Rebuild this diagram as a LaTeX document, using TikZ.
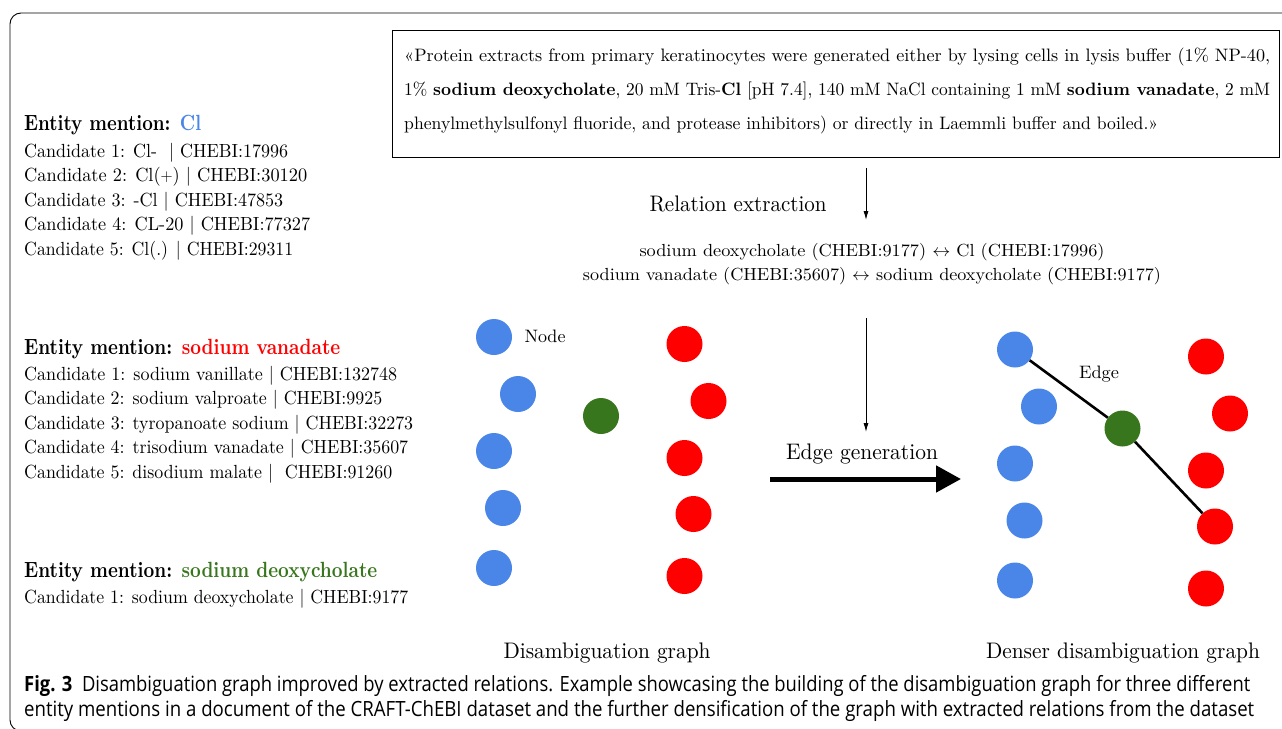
\documentclass[tikz,border=0pt]{standalone}
\usepackage{fontspec}
\usepackage{graphicx}
\usetikzlibrary{arrows.meta}
\setmainfont{lmroman10-regular.otf}[BoldFont=lmroman10-bold.otf]
\newfontfamily\capfont{Open Sans}
\definecolor{nblue}{RGB}{74,134,232}
\definecolor{nred}{RGB}{255,0,0}
\definecolor{ngreen}{RGB}{56,118,29}
\newcommand{\fitw}[2]{\resizebox{#1}{\height}{#2}}
\newcommand{\fsz}[1]{\fontsize{#1}{#1}\selectfont}
\begin{document}
\begin{tikzpicture}[x=1pt,y=-1pt,
  txt/.style={inner sep=0pt, anchor=base west},
  ctxt/.style={inner sep=0pt, anchor=base},
  dot/.style={circle, minimum size=36pt, inner sep=0pt},
  bnode/.style={dot, fill=nblue},
  rnode/.style={dot, fill=nred},
  gnode/.style={dot, fill=ngreen},
  thinarrow/.style={-{Latex[length=9pt,width=5pt]}, line width=0.9pt},
  thickarrow/.style={-{Triangle[length=25pt,width=26pt]}, line width=5pt},
  edgeline/.style={line width=2.6pt},
  cand/.style={txt, font=\fsz{19}},
  ent/.style={txt, font=\fsz{22}\bfseries},
  boxtxt/.style={txt, font=\fsz{18}},
  rel/.style={ctxt, font=\fsz{17.5}},
  big/.style={ctxt, font=\fsz{22.5}},
  small/.style={ctxt, font=\fsz{18}},
  captxt/.style={txt, font=\capfont\fsz{21}},
]
\useasboundingbox (0,0) rectangle (1282,728);
% outer frame
\draw[line width=0.9pt, rounded corners=11pt] (10,13) rectangle (1310,731);

% left column
\node[ent] (e1) at (24,130) {\fitw{177pt}{Entity mention: \textcolor{nblue}{Cl}}};
\node[cand] (c11) at (24,157) {\fitw{264pt}{Candidate 1: Cl-\ \ | CHEBI:17996}};
\node[cand] (c12) at (24,181) {\fitw{283pt}{Candidate 2: Cl($+$) | CHEBI:30120}};
\node[cand] (c13) at (24,206) {\fitw{259pt}{Candidate 3: -Cl | CHEBI:47853}};
\node[cand] (c14) at (24,230) {\fitw{286pt}{Candidate 4: CL-20 | CHEBI:77327}};
\node[cand] (c15) at (24,255) {\fitw{269pt}{Candidate 5: Cl(.) | CHEBI:29311}};

\node[ent] (e2) at (24,354) {\fitw{316pt}{Entity mention: \textcolor{nred}{sodium vanadate}}};
\node[cand] (c21) at (24,380) {\fitw{373pt}{Candidate 1: sodium vanillate | CHEBI:132748}};
\node[cand] (c22) at (24,404) {\fitw{358pt}{Candidate 2: sodium valproate | CHEBI:9925}};
\node[cand] (c23) at (24,429) {\fitw{389pt}{Candidate 3: tyropanoate sodium | CHEBI:32273}};
\node[cand] (c24) at (24,453) {\fitw{384pt}{Candidate 4: trisodium vanadate | CHEBI:35607}};
\node[cand] (c25) at (24,478) {\fitw{368pt}{Candidate 5: disodium malate |\ \ CHEBI:91260}};

\node[ent] (e3) at (24,577) {\fitw{353pt}{Entity mention: \textcolor{ngreen}{sodium deoxycholate}}};
\node[cand] (c31) at (24,603) {\fitw{384pt}{Candidate 1: sodium deoxycholate | CHEBI:9177}};

% sentence box
\node[draw, line width=0.9pt, inner sep=0pt, minimum width=887pt, minimum height=127pt, anchor=north west] (box) at (392,30) {};
\node[boxtxt] (b1) at (404,61.5) {\fitw{866pt}{«Protein extracts from primary keratinocytes were generated either by lysing cells in lysis buffer (1\% NP-40,}};
\node[boxtxt] (b2) at (404,95) {\fitw{866pt}{1\% \textbf{sodium deoxycholate}, 20 mM Tris-\textbf{Cl} [pH 7.4], 140 mM NaCl containing 1 mM \textbf{sodium vanadate}, 2 mM}};
\node[boxtxt] (b3) at (404,129) {\fitw{754pt}{phenylmethylsulfonyl fluoride, and protease inhibitors) or directly in Laemmli buffer and boiled.»}};

% relation extraction
\coordinate (a1s) at (866,168);
\coordinate (a1e) at (866,220);
\draw[thinarrow] (a1s) -- (a1e);
\node[big] (relx) at (738,211) {\fitw{177pt}{Relation extraction}};
\node[rel] (r1) at (872,256) {\fitw{465pt}{sodium deoxycholate (CHEBI:9177) $\leftrightarrow$ Cl (CHEBI:17996)}};
\node[rel] (r2) at (872,280) {\fitw{578pt}{sodium vanadate (CHEBI:35607) $\leftrightarrow$ sodium deoxycholate (CHEBI:9177)}};
\coordinate (a2s) at (866,318);
\coordinate (a2e) at (866,432);
\draw[thinarrow] (a2s) -- (a2e);

% edge generation
\coordinate (g1) at (770,479);
\coordinate (g2) at (961,479);
\draw[thickarrow] (g1) -- (g2);
\node[big] (egen) at (862,459) {\fitw{152pt}{Edge generation}};

% left graph
\node[bnode] (lb1) at (494,337) {};
\node[bnode] (lb2) at (518,394) {};
\node[bnode] (lb3) at (494,451) {};
\node[bnode] (lb4) at (503,508) {};
\node[bnode] (lb5) at (494,568) {};
\node[gnode] (lg) at (601,416) {};
\node[rnode] (lr1) at (684.5,344) {};
\node[rnode] (lr2) at (708.5,401) {};
\node[rnode] (lr3) at (684.5,458) {};
\node[rnode] (lr4) at (693.5,514) {};
\node[rnode] (lr5) at (684.5,576) {};
\node[small] (nodelbl) at (545,342) {\fitw{41pt}{Node}};
\node[big] (dg) at (607,658) {\fitw{207pt}{Disambiguation graph}};

% right graph
\node[bnode] (rb1) at (1015,349.5) {};
\node[bnode] (rb2) at (1039,406.5) {};
\node[bnode] (rb3) at (1015,463.5) {};
\node[bnode] (rb4) at (1024.5,520.5) {};
\node[bnode] (rb5) at (1015,580.5) {};
\node[gnode] (rg) at (1122.5,428.5) {};
\node[rnode] (rr1) at (1206,356.5) {};
\node[rnode] (rr2) at (1230,413.5) {};
\node[rnode] (rr3) at (1206,470.5) {};
\node[rnode] (rr4) at (1215,526.5) {};
\node[rnode] (rr5) at (1206,588.5) {};
\draw[edgeline] (rb1) -- (rg) -- (rr4);
\node[small] (edgelbl) at (1099,378) {\fitw{40pt}{Edge}};
\node[big] (ddg) at (1123,658) {\fitw{274pt}{Denser disambiguation graph}};

% caption
\node[captxt] (cap1) at (24,691) {\fitw{1226pt}{\textbf{Fig. 3}\ \ Disambiguation graph improved by extracted relations. Example showcasing the building of the disambiguation graph for three different}};
\node[captxt] (cap2) at (24,716) {\fitw{1230pt}{entity mentions in a document of the CRAFT-ChEBI dataset and the further densification of the graph with extracted relations from the dataset}};
\end{tikzpicture}
\end{document}
